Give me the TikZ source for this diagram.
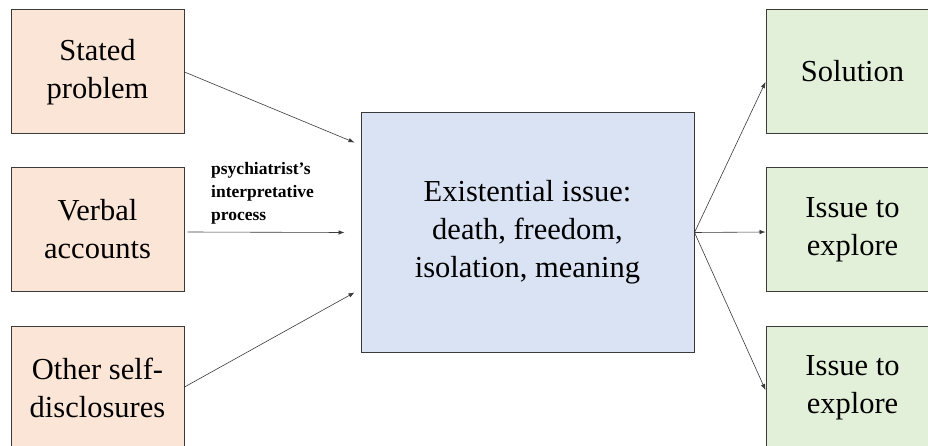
\documentclass[tikz,border=0pt]{standalone}
\usepackage{fontspec}
\setmainfont{Liberation Serif}
\usetikzlibrary{arrows.meta,calc}
\definecolor{peach}{HTML}{FBE5D6}
\definecolor{paleblue}{HTML}{DAE3F3}
\definecolor{palegreen}{HTML}{E2F0D9}
\definecolor{edge}{HTML}{3A3A3A}
\tikzset{
  box/.style={draw=edge, line width=1pt, minimum width=173pt, minimum height=124pt,
    inner sep=0pt, align=center, font=\fontsize{30.5}{38}\selectfont},
  inbox/.style={box, fill=peach},
  outbox/.style={box, fill=palegreen},
  bigbox/.style={box, fill=paleblue, minimum width=333pt, minimum height=239pt},
  conn/.style={draw=edge, line width=0.6pt, -{Latex[length=6pt,width=4.5pt]}},
  lbl/.style={align=left, inner sep=0pt, font=\bfseries\fontsize{17.5}{23}\selectfont}
}
\begin{document}
\begin{tikzpicture}[x=1pt,y=-1pt]
\useasboundingbox (0,0) rectangle (928,446);
\clip (0,0) rectangle (928,446);
\fill[white] (0,0) rectangle (928,446);
\node[inbox] (sp) at (97.5,72) {Stated\\problem};
\node[inbox] (va) at (97.5,229.5) {Verbal\\accounts};
\node[inbox] (os) at (97.5,388) {Other self-\\disclosures};
\node[bigbox] (ex) at (527.5,232.5) {Existential issue:\\death, freedom,\\isolation, meaning};
\node[outbox] (so) at (852.5,71.5) {Solution};
\node[outbox] (i1) at (852.5,229.5) {Issue to\\explore};
\node[outbox] (i2) at (852.5,388) {Issue to\\explore};
\node[lbl, anchor=base west] (pl) at (211,221) {psychiatrist's\\interpretative\\process};
\coordinate (t1) at ($(ex.north west)+(-6,30)$);
\coordinate (t2) at ($(ex.west)+(-16,0)$);
\coordinate (t3) at ($(ex.south west)+(-6,-60)$);
\draw[conn] (sp.east) -- (t1);
\draw[conn] ($(va.east)+(3,2.5)$) -- (t2);
\draw[conn] ($(os.east)+(0,-1)$) -- (t3);
\draw[conn] (ex.east) -- ($(so.west)+(0,10.5)$);
\draw[conn] (ex.east) -- ($(i1.west)+(0,2.5)$);
\draw[conn] (ex.east) -- ($(i2.west)+(0,2)$);
\end{tikzpicture}
\end{document}
